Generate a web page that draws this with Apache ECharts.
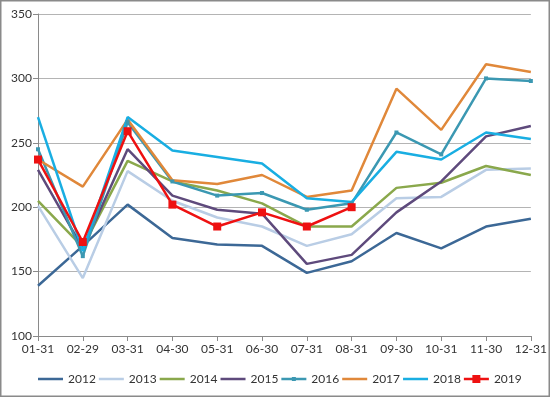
<!DOCTYPE html>
<html>
<head>
<meta charset="utf-8">
<script src="https://cdn.jsdelivr.net/npm/echarts@6/dist/echarts.min.js"></script>
<style>
  html, body { margin: 0; padding: 0; background: #fff; }
  #main { width: 550px; height: 397px; }
</style>
</head>
<body>
<div id="main"></div>
<script>
// 日期分类
const categories = ['01-31', '02-29', '03-31', '04-30', '05-31', '06-30', '07-31', '08-31', '09-30', '10-31', '11-30', '12-31'];

// 各年数据
const y2012 = [139, 170, 202, 176, 171, 170, 149, 158, 180, 168, 185, 191];
const y2013 = [201, 145, 228, 205, 192, 185, 170, 179, 207, 208, 229, 230];
const y2014 = [205, 169, 236, 220, 213, 203, 185, 185, 215, 219, 232, 225];
const y2015 = [229, 168, 245, 209, 198, 195, 156, 163, 196, 220, 255, 263];
const y2016 = [245, 162, 266, 220, 209, 211, 198, 203, 258, 241, 300, 298];
const y2017 = [237, 216, 268, 221, 218, 225, 208, 213, 292, 260, 311, 305];
const y2018 = [270, 166, 270, 244, 239, 234, 207, 204, 243, 237, 258, 253];
const y2019 = [237, 173, 259, 202, 185, 196, 185, 200];

const years = ['2012', '2013', '2014', '2015', '2016', '2017', '2018', '2019'];
const colors = ['#3C6896', '#B9CDE5', '#8AA84C', '#5E4A7C', '#3B98B2', '#E0883A', '#19AEE2', '#EE1111'];

// 图例图标 (25x10 范围, 角上的小点只用来撑开范围)
const corners = ' M0,0 L0.01,0 L0,0.01 Z M25,10 L24.99,10 L25,9.99 Z';
const iconLine = 'path://M0,3.8 H25 V6.2 H0 Z' + corners;
const iconSmallRect = 'path://M0,3.8 H10.5 V3 H14.5 V3.8 H25 V6.2 H14.5 V7 H10.5 V6.2 H0 Z' + corners;
const iconBigRect = 'path://M0,3.8 H8.5 V1 H16.5 V3.8 H25 V6.2 H16.5 V9 H8.5 V6.2 H0 Z' + corners;

const chart = echarts.init(document.getElementById('main'));

function lineSeries(name, data, color, symbol, size) {
  return {
    name: name,
    type: 'line',
    data: data,
    symbol: symbol || 'none',
    symbolSize: size || 0,
    showSymbol: !!symbol,
    itemStyle: { color: color },
    lineStyle: { color: color, width: 2.5 },
    emphasis: { disabled: true },
    animation: false
  };
}

chart.setOption({
  backgroundColor: '#fff',
  textStyle: { fontFamily: 'Lato, "Liberation Sans", sans-serif' },
  graphic: [{
    type: 'rect',
    shape: { x: 0.75, y: 0.75, width: 548.5, height: 395.5 },
    style: { fill: 'none', stroke: '#8a8a8a', lineWidth: 1.5 },
    silent: true
  }],
  grid: { left: 38, right: 13, top: 14, bottom: 61 },
  legend: {
    left: 33,
    top: 368,
    width: 515,
    itemWidth: 25,
    itemHeight: 10,
    itemGap: 3,
    data: years.map(function (y) {
      let icon = iconLine;
      if (y === '2016') icon = iconSmallRect;
      if (y === '2019') icon = iconBigRect;
      return { name: y, icon: icon };
    }),
    textStyle: { fontSize: 12, color: '#333' }
  },
  xAxis: {
    type: 'category',
    data: categories,
    boundaryGap: false,
    axisLine: { lineStyle: { color: '#8a8a8a', width: 1 } },
    axisTick: { show: true, length: 5, alignWithLabel: true, lineStyle: { color: '#8a8a8a' } },
    axisLabel: { color: '#333', fontSize: 12, margin: 7, interval: 0 },
    splitLine: { show: false }
  },
  yAxis: {
    type: 'value',
    min: 100,
    max: 350,
    interval: 50,
    axisLine: { show: true, lineStyle: { color: '#8a8a8a', width: 1 } },
    axisTick: { show: true, length: 5, lineStyle: { color: '#8a8a8a' } },
    axisLabel: { color: '#333', fontSize: 12, margin: 6 },
    splitLine: { lineStyle: { color: '#b4b4b4', width: 1 } }
  },
  series: [
    lineSeries('2012', y2012, colors[0]),
    lineSeries('2013', y2013, colors[1]),
    lineSeries('2014', y2014, colors[2]),
    lineSeries('2015', y2015, colors[3]),
    lineSeries('2016', y2016, colors[4], 'rect', 4),
    lineSeries('2017', y2017, colors[5]),
    lineSeries('2018', y2018, colors[6]),
    lineSeries('2019', y2019, colors[7], 'rect', 8)
  ]
});
</script>
</body>
</html>
